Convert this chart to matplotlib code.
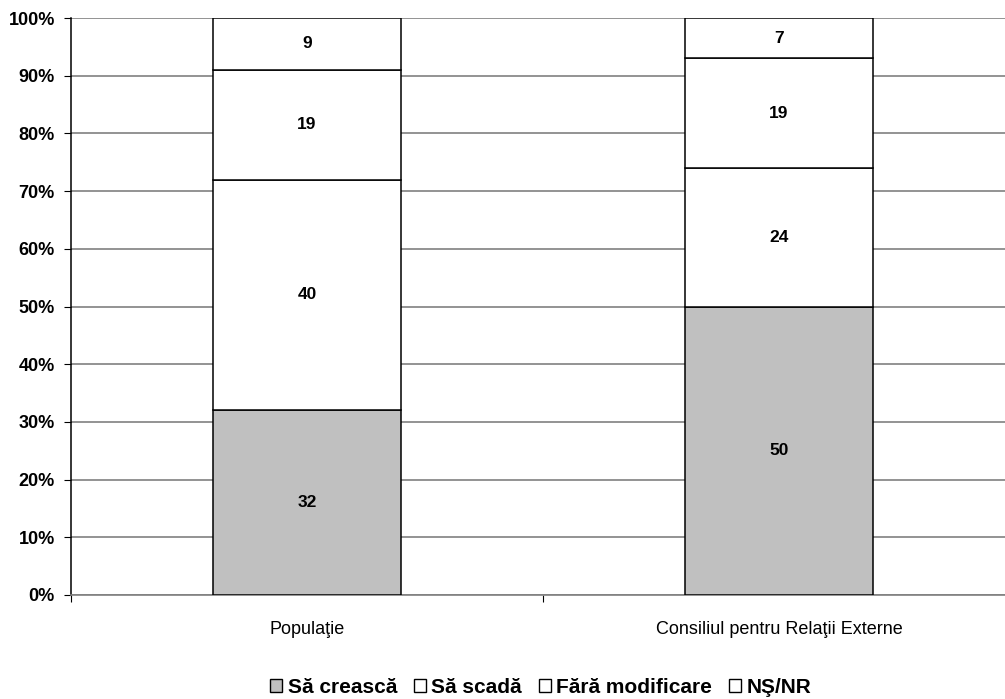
import numpy as np
import matplotlib.pyplot as plt
from matplotlib.patches import Patch

plt.rcParams['font.family'] = ['Liberation Sans', 'DejaVu Sans']

categories = ['Populaţie', 'Consiliul pentru Relaţii Externe']
series = ['Să crească', 'Să scadă', 'Fără modificare', 'NŞ/NR']
values = [
    [32, 50],  # Să crească
    [40, 24],  # Să scadă
    [19, 19],  # Fără modificare
    [9, 7],    # NŞ/NR
]
colors = ['#c0c0c0', 'white', 'white', 'white']

fig = plt.figure(figsize=(10.05, 6.99), dpi=100)
# right edge runs a little past the figure, like the original layout
ax = fig.add_axes([0.0706, 0.1488, 0.9393, 0.8254])

x = np.array([0.5, 1.5])
bottom = np.zeros(2)
for vals, col in zip(values, colors):
    vals = np.array(vals, dtype=float)
    ax.bar(x, vals, width=0.4, bottom=bottom, color=col, edgecolor='black',
           linewidth=1.1, zorder=3)
    for xi, b, v in zip(x, bottom, vals):
        ax.text(xi, b + v / 2, f'{int(v)}', ha='center', va='center',
                fontsize=12.5, fontweight='bold', zorder=4)
    bottom += vals

ax.set_xlim(0, 2)
ax.set_ylim(0, 100)
ax.set_yticks(np.arange(0, 101, 10))
ax.set_yticklabels([f'{t}%' for t in range(0, 101, 10)], fontsize=13, fontweight='bold')
ax.yaxis.grid(True, color='#808080', linewidth=1.2, zorder=0)
ax.set_xticks([0, 1, 2])
ax.set_xticklabels([])
ax.set_xticks(x, minor=True)
ax.set_xticklabels(categories, minor=True, fontsize=13)
ax.tick_params(axis='x', which='minor', length=0, pad=19)
ax.tick_params(axis='x', which='major', length=5, direction='out')
ax.tick_params(axis='y', length=5, direction='out', pad=6.5)
for s in ['top', 'right']:
    ax.spines[s].set_visible(False)
ax.spines['left'].set_linewidth(1.1)
ax.spines['bottom'].set_linewidth(1.2)
ax.spines['bottom'].set_color('#808080')

handles = [Patch(facecolor=c, edgecolor='black', linewidth=1.0) for c in colors]
fig.legend(handles, series, loc='center', bbox_to_anchor=(0.538, 0.017), ncol=4,
           frameon=False, prop={'weight': 'bold', 'size': 15},
           handlelength=0.6, handleheight=0.6, handletextpad=0.25,
           columnspacing=0.8, borderpad=0)

fig.savefig('out.png', dpi=100)
